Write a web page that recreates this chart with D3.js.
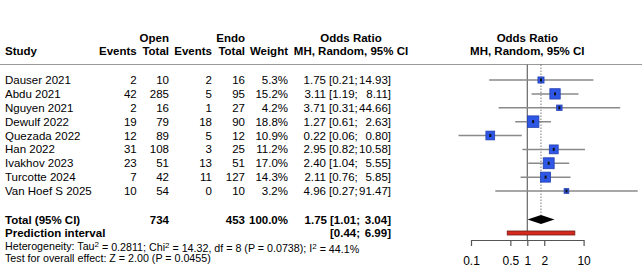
<!DOCTYPE html>
<html>
<head>
<meta charset="utf-8">
<script src="https://cdn.jsdelivr.net/npm/d3@7"></script>
<style>
  body { margin: 0; background: #fff; }
  svg { font-family: "Liberation Sans", Arial, Helvetica, sans-serif; }
</style>
</head>
<body>
<svg id="chart" width="642" height="274"></svg>
<script>
const studies = ["Dauser 2021", "Abdu 2021", "Nguyen 2021", "Dewulf 2022", "Quezada 2022",
  "Han 2022", "Ivakhov 2023", "Turcotte 2024", "Van Hoef S 2025"];
const openEvents = [2, 42, 2, 19, 12, 31, 23, 7, 10];
const openTotal = [10, 285, 16, 79, 89, 108, 51, 42, 54];
const endoEvents = [2, 5, 1, 18, 5, 3, 13, 11, 0];
const endoTotal = [16, 95, 27, 90, 12, 25, 51, 127, 10];
const weights = [5.3, 15.2, 4.2, 18.8, 10.9, 11.2, 17.0, 14.3, 3.2];
const oddsRatio = [1.75, 3.11, 3.71, 1.27, 0.22, 2.95, 2.40, 2.11, 4.96];
const ciLower = [0.21, 1.19, 0.31, 0.61, 0.06, 0.82, 1.04, 0.76, 0.27];
const ciUpper = [14.93, 8.11, 44.66, 2.63, 0.80, 10.58, 5.55, 5.85, 91.47];
const pooled = [1.75, 1.01, 3.04];      // OR, lower, upper
const predInterval = [0.44, 6.99];
const totals = [734, 453, "100.0%"];
const axisTicks = [0.1, 0.5, 1, 2, 10];

const svg = d3.select("#chart");
const fs = 11.5;

const x = d3.scaleLog().domain([0.1, 10]).range([471, 583.6]);
const y = d3.scaleLinear().domain([0, 8]).range([80, 191]);
const rowTotal = 219.5, rowPI = 233;
const maxW = d3.max(weights);
const boxSize = d3.scaleSqrt().domain([0, maxW]).range([0, 11.5]);

// headers
const hdr = svg.append("g").attr("font-weight", "bold").attr("font-size", fs).attr("fill", "#000");
hdr.append("text").attr("x", 5).attr("y", 51).attr("dy", "0.35em").text("Study");
[["Events", 136.7, 51], ["Total", 169, 51], ["Open", 169, 38],
 ["Events", 212, 51], ["Total", 245, 51], ["Endo", 245, 38], ["Weight", 288, 51]]
  .forEach(d => hdr.append("text").attr("x", d[1]).attr("y", d[2]).attr("dy", "0.35em")
    .attr("text-anchor", "end").text(d[0]));
[351, 527.3].forEach(cx => {
  hdr.append("text").attr("x", cx).attr("y", 38).attr("dy", "0.35em").attr("text-anchor", "middle").text("Odds Ratio");
  hdr.append("text").attr("x", cx).attr("y", 51).attr("dy", "0.35em").attr("text-anchor", "middle").text("MH, Random, 95% CI");
});

svg.append("line").attr("x1", 0).attr("x2", 642).attr("y1", 64.5).attr("y2", 64.5)
  .attr("stroke", "#999").attr("stroke-width", 1);

// study rows
const f2 = d3.format(".2f");
const rows = svg.append("g").attr("font-size", fs).attr("fill", "#000");
studies.forEach((s, i) => {
  const g = rows.append("g").attr("transform", `translate(0,${y(i)})`);
  g.append("text").attr("x", 5).attr("dy", "0.35em").text(s);
  [[openEvents[i], 136.7], [openTotal[i], 169], [endoEvents[i], 212], [endoTotal[i], 245],
   [weights[i].toFixed(1) + "%", 288], [f2(oddsRatio[i]), 326], [f2(ciUpper[i]) + "]", 391]]
    .forEach(d => g.append("text").attr("x", d[1]).attr("dy", "0.35em").attr("text-anchor", "end").text(d[0]));
  g.append("text").attr("x", 329).attr("dy", "0.35em").text("[" + f2(ciLower[i]) + ";");
});

// total / prediction rows
const bold = svg.append("g").attr("font-size", fs).attr("font-weight", "bold").attr("fill", "#000");
bold.append("text").attr("x", 5).attr("y", rowTotal).attr("dy", "0.35em").text("Total (95% CI)");
[[totals[0], 169], [totals[1], 245], [totals[2], 288], [f2(pooled[0]), 327], [f2(pooled[2]) + "]", 391]]
  .forEach(d => bold.append("text").attr("x", d[1]).attr("y", rowTotal).attr("dy", "0.35em")
    .attr("text-anchor", "end").text(d[0]));
bold.append("text").attr("x", 330).attr("y", rowTotal).attr("dy", "0.35em").text("[" + f2(pooled[1]) + ";");
bold.append("text").attr("x", 5).attr("y", rowPI).attr("dy", "0.35em").text("Prediction interval");
bold.append("text").attr("x", 330).attr("y", rowPI).attr("dy", "0.35em").text("[" + f2(predInterval[0]) + ";");
bold.append("text").attr("x", 391).attr("y", rowPI).attr("dy", "0.35em").attr("text-anchor", "end")
  .text(f2(predInterval[1]) + "]");

// heterogeneity text
const small = svg.append("g").attr("font-size", 10.7).attr("fill", "#000");
const het = small.append("text").attr("x", 5).attr("y", 246.5).attr("dy", "0.35em");
const sup = t => het.append("tspan").attr("dy", "-0.4em").attr("font-size", 8).text(t);
const norm = t => het.append("tspan").attr("dy", "0.4em").text(t);
het.append("tspan").text("Heterogeneity: Tau");
sup("2"); norm(" = 0.2811; Chi"); sup("2"); norm(" = 14.32, df = 8 (P = 0.0738); I"); sup("2"); norm(" = 44.1%");
small.append("text").attr("x", 5).attr("y", 258.5).attr("dy", "0.35em")
  .text("Test for overall effect: Z = 2.00 (P = 0.0455)");

// forest plot
const plot = svg.append("g");
plot.append("line").attr("x1", x(1)).attr("x2", x(1)).attr("y1", 64.5).attr("y2", 240)
  .attr("stroke", "#666").attr("stroke-width", 1.2);
plot.append("line").attr("x1", x(pooled[0])).attr("x2", x(pooled[0])).attr("y1", 64.5).attr("y2", rowTotal - 4.5)
  .attr("stroke", "#555").attr("stroke-width", 0.8).attr("stroke-dasharray", "1.5,1.5");

const idx = d3.range(studies.length);
plot.selectAll(".ci").data(idx).enter().append("line")
  .attr("x1", i => x(ciLower[i])).attr("x2", i => x(ciUpper[i]))
  .attr("y1", i => y(i)).attr("y2", i => y(i))
  .attr("stroke", "#8a8a8a").attr("stroke-width", 1.5);
plot.selectAll(".box").data(idx).enter().append("rect")
  .attr("x", i => x(oddsRatio[i]) - boxSize(weights[i]) / 2)
  .attr("y", i => y(i) - boxSize(weights[i]) / 2)
  .attr("width", i => boxSize(weights[i])).attr("height", i => boxSize(weights[i]))
  .attr("fill", "#2f57e6").attr("stroke", "#2440b0").attr("stroke-width", 0.8);
plot.selectAll(".pt").data(idx).enter().append("rect")
  .attr("x", i => x(oddsRatio[i]) - 1).attr("y", i => y(i) - 1.5)
  .attr("width", 2).attr("height", 3).attr("fill", "#111");

// pooled diamond
plot.append("path")
  .attr("d", `M${x(pooled[1])},${rowTotal} L${x(pooled[0])},${rowTotal - 4.5} L${x(pooled[2])},${rowTotal} L${x(pooled[0])},${rowTotal + 4.5} Z`)
  .attr("fill", "#000");

// prediction interval bar
plot.append("rect")
  .attr("x", x(predInterval[0])).attr("y", rowPI - 2)
  .attr("width", x(predInterval[1]) - x(predInterval[0])).attr("height", 4)
  .attr("fill", "#d42a1e").attr("stroke", "#6e1a14").attr("stroke-width", 0.8);

// axis
const axis = svg.append("g").attr("transform", "translate(0,240)")
  .call(d3.axisBottom(x).tickValues(axisTicks).tickFormat(d3.format("")).tickSize(6).tickSizeOuter(0));
axis.select(".domain").attr("stroke", "#555").attr("stroke-width", 1.2);
axis.selectAll(".tick line").attr("stroke", "#555").attr("stroke-width", 1.2);
axis.selectAll(".tick text").attr("font-size", 12).attr("font-family", "Liberation Sans, Arial, sans-serif")
  .attr("fill", "#000").attr("y", 16);
</script>
</body>
</html>
